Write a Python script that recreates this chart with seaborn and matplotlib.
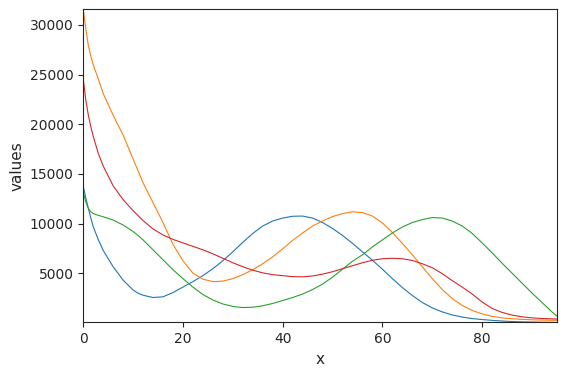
import numpy as np
import pandas as pd
import matplotlib
matplotlib.use("Agg")
import matplotlib.pyplot as plt
import seaborn as sns

x = [0, 0.5, 1, 1.5, 2, 3, 4, 6, 8, 10, 11, 12, 14, 16, 18, 20, 22, 24, 26, 28, 30,
     32, 34, 36, 38, 40, 42, 44, 46, 48, 50, 52, 54, 56, 58, 60, 62, 64, 66, 68,
     70, 72, 74, 76, 78, 80, 82, 84, 86, 88, 90, 92, 94, 95]

blue = [13800, 12600, 11600, 10600, 9700, 8400, 7300, 5650, 4300, 3300, 2980, 2780, 2550,
        2620, 3050, 3600, 4150, 4750, 5450, 6250, 7150, 8100, 9000, 9750, 10250, 10550,
        10730, 10750, 10550, 10100, 9500, 8800, 8000, 7150, 6300, 5400, 4450, 3550, 2750,
        2050, 1500, 1100, 800, 580, 430, 330, 250, 180, 130, 100, 80, 60, 50, 45]

orange = [31600, 29700, 28000, 26900, 26000, 24600, 23100, 20900, 18900, 16500, 15300,
          14100, 12100, 10100, 7900, 6250, 5000, 4400, 4150, 4200, 4450, 4850, 5350, 5950,
          6650, 7450, 8300, 9050, 9750, 10250, 10700, 11000, 11180, 11100, 10750, 10050,
          9100, 8000, 6850, 5650, 4450, 3350, 2450, 1750, 1250, 900, 650, 500, 410, 350,
          310, 280, 260, 250]

green = [13200, 12200, 11550, 11200, 11000, 10830, 10680, 10350, 9850, 9200, 8800, 8350,
         7350, 6350, 5350, 4450, 3600, 2850, 2300, 1900, 1650, 1540, 1570, 1720, 1950,
         2250, 2550, 2900, 3350, 3900, 4600, 5400, 6200, 6850, 7650, 8350, 9050, 9650,
         10100, 10400, 10600, 10550, 10250, 9750, 9000, 8050, 7050, 6000, 5000, 4000,
         3000, 2050, 1100, 680]

red = [24600, 22500, 21000, 19800, 18800, 17100, 15800, 13800, 12400, 11300, 10800,
       10300, 9450, 8850, 8400, 8050, 7700, 7350, 6950, 6500, 6050, 5650, 5300, 5030,
       4850, 4750, 4650, 4630, 4720, 4900, 5150, 5450, 5750, 6050, 6300, 6450, 6500,
       6450, 6280, 5950, 5550, 4950, 4250, 3600, 2900, 2100, 1450, 1050, 780, 610, 500,
       440, 400, 380]

series = {"blue": blue, "orange": orange, "green": green, "red": red}
colors = ["#1f77b4", "#ff7f0e", "#2ca02c", "#d62728"]

df = pd.DataFrame({"x": x, **series}).melt(id_vars="x", var_name="series", value_name="values")

sns.set_style("ticks")
plt.rcParams['font.family'] = ['DejaVu Sans']
fig, ax = plt.subplots(figsize=(5.66, 3.74), dpi=100)
sns.lineplot(data=df, x="x", y="values", hue="series", palette=colors,
             linewidth=0.8, legend=False, ax=ax)
ax.set_xlim(0, 95)
allv = blue + orange + green + red
ax.set_ylim(min(allv), max(allv))
ax.set_xlabel("x", fontsize=11)
ax.set_ylabel("values", fontsize=11)
ax.tick_params(labelsize=10)
fig.subplots_adjust(left=0.147, right=0.984, top=0.976, bottom=0.138)
fig.savefig("out.png", dpi=100)
